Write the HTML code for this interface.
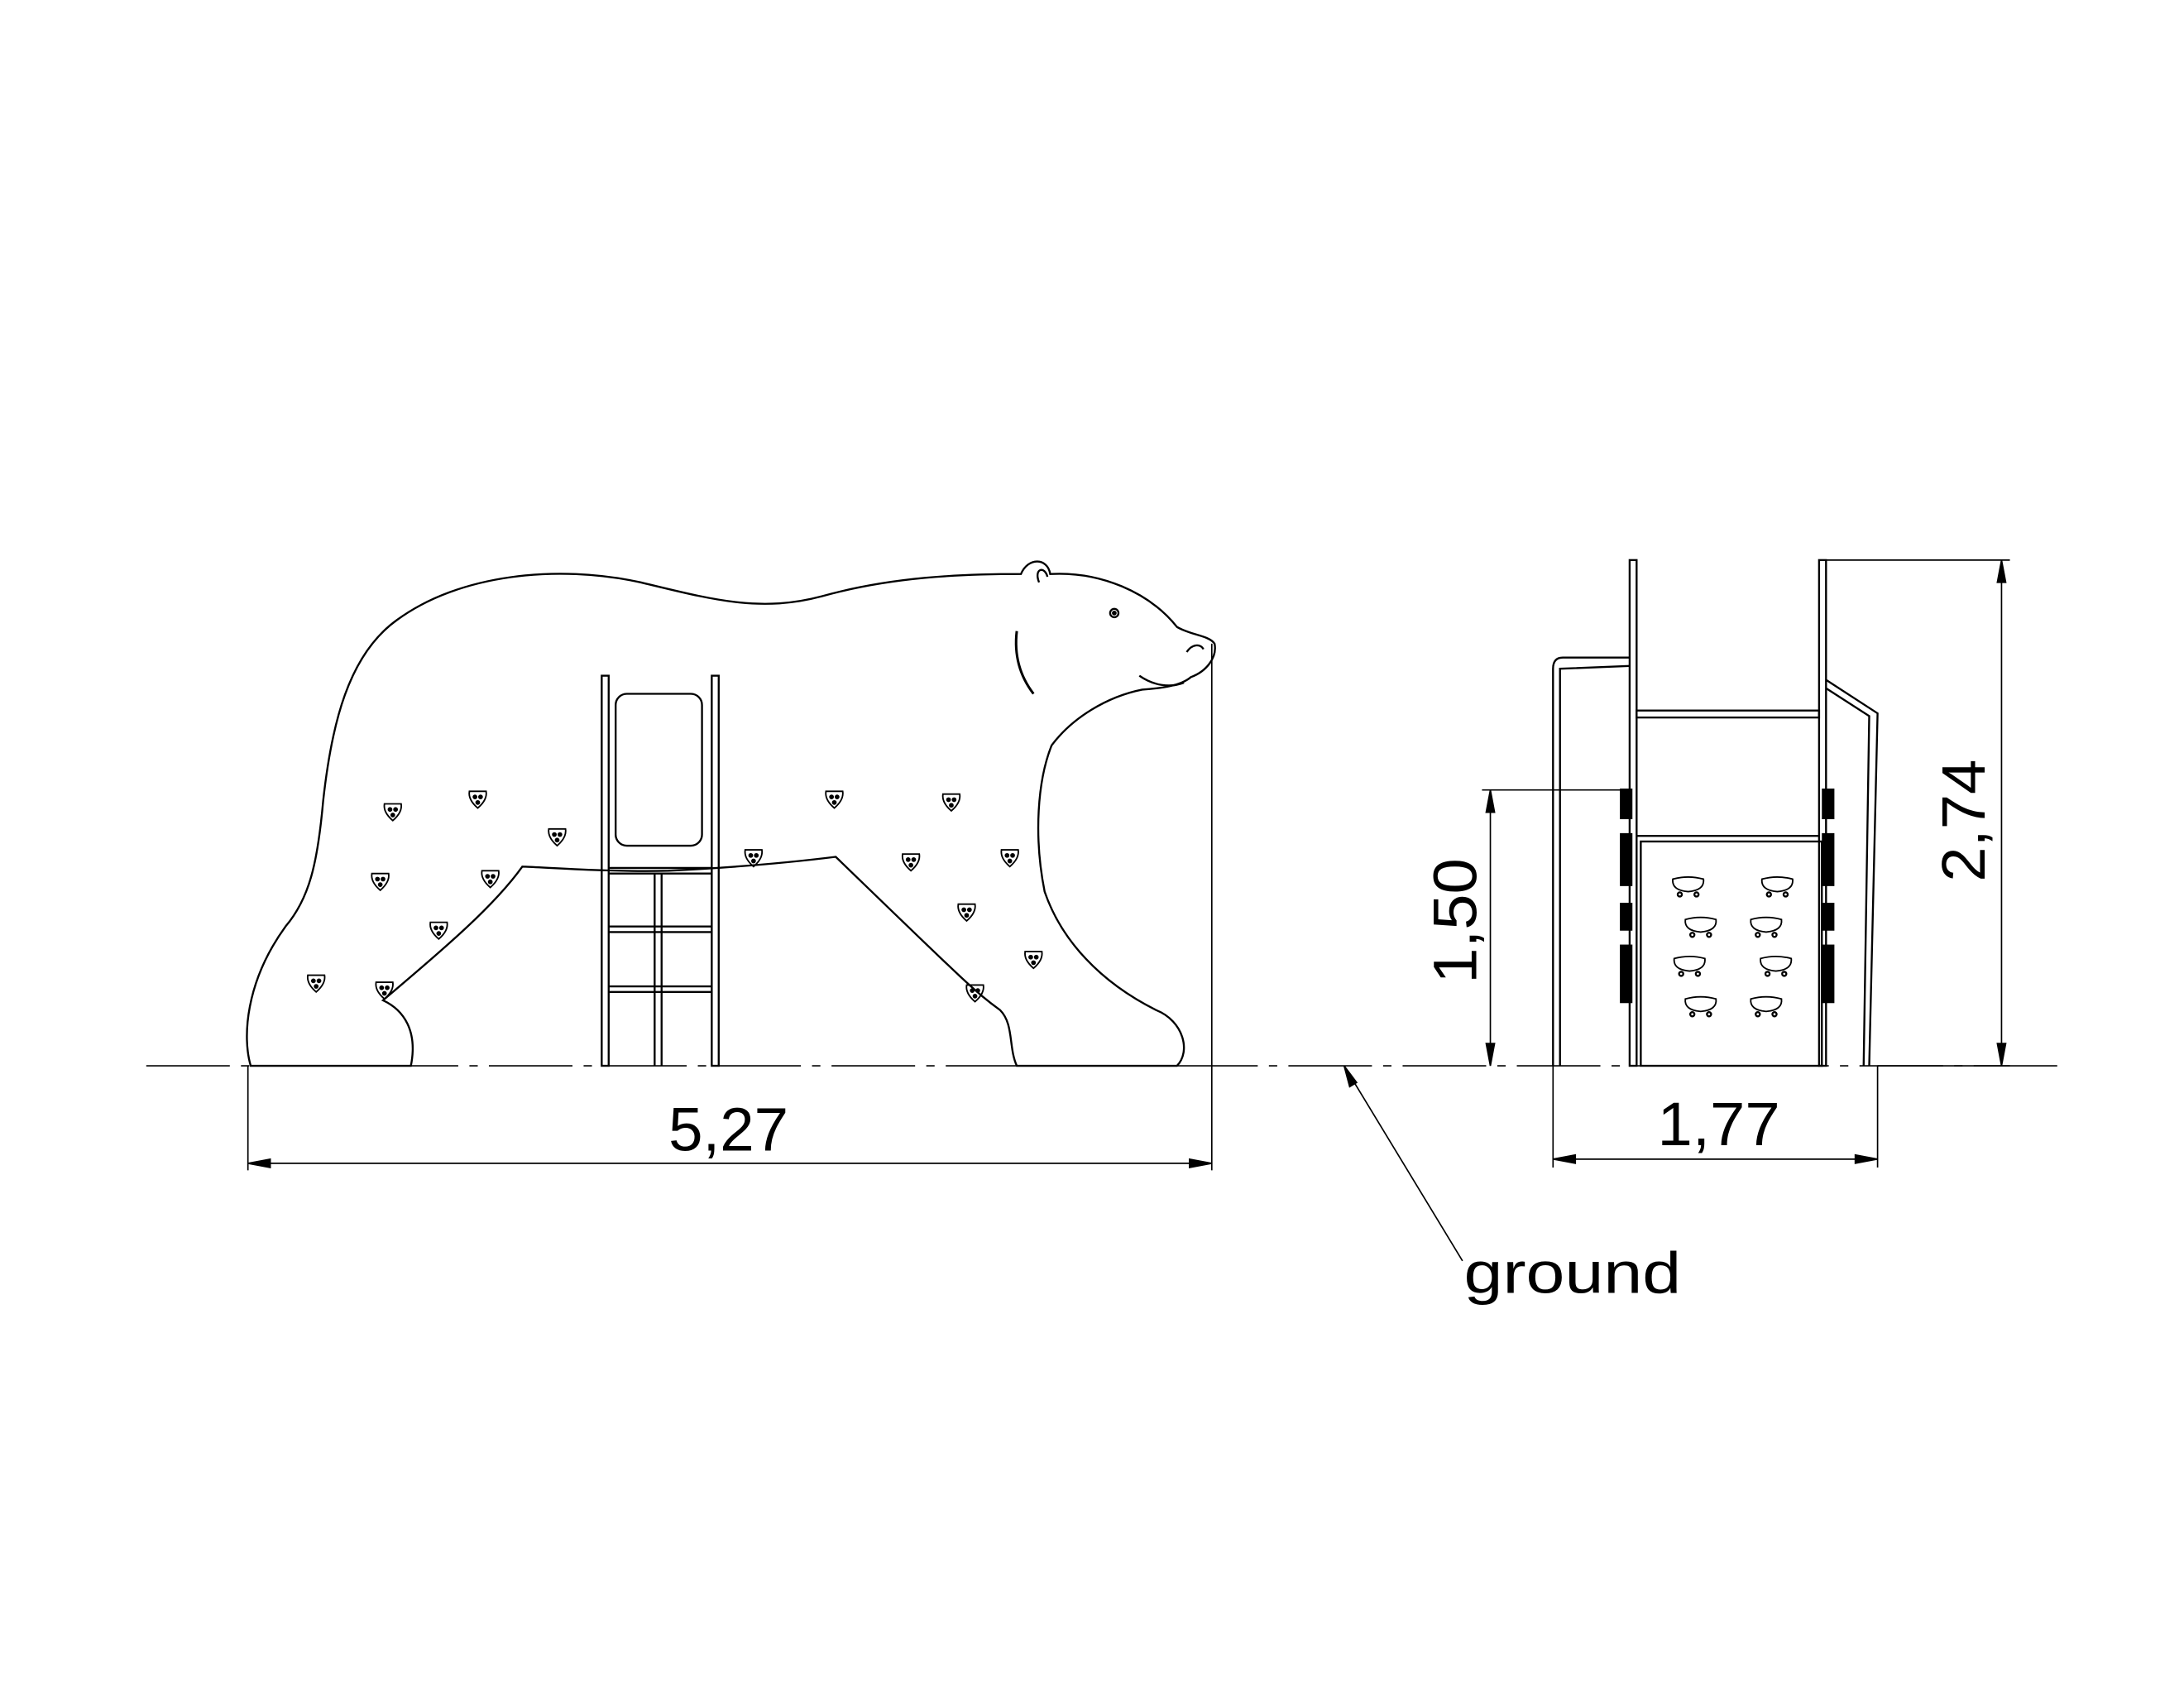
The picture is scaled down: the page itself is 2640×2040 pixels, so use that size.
<!DOCTYPE html>
<html><head><meta charset="utf-8"><style>html,body{margin:0;padding:0;background:#fff}svg{display:block}</style></head>
<body>
<svg width="2640" height="2040" viewBox="0 0 1568 1211.6" xmlns="http://www.w3.org/2000/svg" fill="none" stroke="#000" stroke-width="1.4" font-family="'Liberation Sans', sans-serif">
<defs>
<g id="h"><path d="M-6,-5 L6,-5 Q7,1 0,7 Q-7,1 -6,-5Z" stroke-width="1.1"/><circle cx="-2" cy="-1" r="1" fill="#000"/><circle cx="2" cy="-1" r="1" fill="#000"/><circle cx="0" cy="3" r="1" fill="#000"/></g>
<g id="g"><path d="M-11,-4 Q0,-7 11,-4 Q12,4 0,5 Q-12,4 -11,-4Z" stroke-width="1.1"/><circle cx="-6" cy="7" r="1.5"/><circle cx="6" cy="7" r="1.5"/></g>
</defs>
<!-- bear -->
<path d="M180,765 C174,745 176,705 205,665 C222,645 228,620 232,575 C238,520 250,470 285,445 C330,412 400,405 460,418 C510,430 545,440 590,428 C640,414 690,412 733,412 C738,400 752,400 754,412 C790,410 825,425 845,450 C855,456 868,456 872,462 C874,472 866,482 855,486 C848,492 835,494 820,495 C795,500 770,515 755,535 C745,560 742,600 750,640 C762,675 790,705 830,725 C850,733 855,755 845,765 L730,765 C724,752 728,735 718,725 C700,712 690,702 600,615 C560,620 520,623 480,625 C440,626 400,623 375,622 C355,650 320,680 275,718 C290,725 300,740 295,765 Z"/>
<path d="M746,418 C742,408 750,406 752,414"/>
<circle cx="800" cy="440" r="3"/><circle cx="800" cy="440" r="1" fill="#000"/>
<path d="M730,453 C728,470 732,485 742,498" stroke-width="1.8"/>
<path d="M818,485 C828,492 840,494 850,490"/>
<path d="M852,468 C856,462 862,462 864,466"/>
<!-- holds -->
<use href="#h" x="282" y="582"/><use href="#h" x="343" y="573"/><use href="#h" x="400" y="600"/>
<use href="#h" x="273" y="632"/><use href="#h" x="352" y="630"/><use href="#h" x="315" y="667"/>
<use href="#h" x="227" y="705"/><use href="#h" x="276" y="710"/><use href="#h" x="541" y="615"/>
<use href="#h" x="599" y="573"/><use href="#h" x="683" y="575"/><use href="#h" x="654" y="618"/>
<use href="#h" x="725" y="615"/><use href="#h" x="694" y="654"/><use href="#h" x="742" y="688"/><use href="#h" x="700" y="712"/>
<!-- ladder -->
<rect x="432" y="485" width="5" height="280"/><rect x="511" y="485" width="5" height="280"/>
<rect x="442" y="498" width="62" height="109" rx="8"/>
<line x1="437" y1="623" x2="511" y2="623"/><line x1="437" y1="627" x2="511" y2="627"/>
<line x1="437" y1="665" x2="511" y2="665"/><line x1="437" y1="669" x2="511" y2="669"/>
<line x1="437" y1="708" x2="511" y2="708"/><line x1="437" y1="712" x2="511" y2="712"/>
<line x1="470" y1="627" x2="470" y2="765"/><line x1="475" y1="627" x2="475" y2="765"/>
<!-- right view -->
<rect x="1170" y="402" width="5" height="363"/><rect x="1306" y="402" width="5" height="363"/>
<path d="M1170,472 L1122,472 Q1115,472 1115,480 L1115,765 M1120,765 L1120,480 L1170,478"/>
<path d="M1311,488 L1348,512 L1342,765 M1311,494 L1342,514 L1338,765"/>
<rect x="1175" y="510" width="131" height="5"/>
<rect x="1178" y="604" width="130" height="161"/>
<line x1="1175" y1="600" x2="1306" y2="600"/>
<use href="#g" x="1212" y="635"/><use href="#g" x="1276" y="635"/>
<use href="#g" x="1221" y="664"/><use href="#g" x="1268" y="664"/>
<use href="#g" x="1213" y="692"/><use href="#g" x="1275" y="692"/>
<use href="#g" x="1221" y="721"/><use href="#g" x="1268" y="721"/>
<g fill="#000" stroke="none">
<rect x="1163" y="566" width="9" height="22"/><rect x="1163" y="598" width="9" height="38"/><rect x="1163" y="648" width="9" height="20"/><rect x="1163" y="678" width="9" height="42"/>
<rect x="1308" y="566" width="9" height="22"/><rect x="1308" y="598" width="9" height="38"/><rect x="1308" y="648" width="9" height="20"/><rect x="1308" y="678" width="9" height="42"/>
</g>
<!-- ground -->
<line x1="105" y1="765" x2="1480" y2="765" stroke-width="1" stroke-dasharray="60,8,6,8"/>
<!-- dims -->
<g stroke-width="1">
<line x1="178" y1="765" x2="178" y2="840"/><line x1="870" y1="462" x2="870" y2="840"/>
<line x1="178" y1="835" x2="870" y2="835"/>
<path d="M178,835 l16,-3 v6z M870,835 l-16,-3 v6z" fill="#000"/>
<line x1="1115" y1="765" x2="1115" y2="838"/><line x1="1348" y1="765" x2="1348" y2="838"/>
<line x1="1115" y1="832" x2="1348" y2="832"/>
<path d="M1115,832 l16,-3 v6z M1348,832 l-16,-3 v6z" fill="#000"/>
<line x1="1165" y1="567" x2="1064" y2="567"/>
<line x1="1070" y1="567" x2="1070" y2="765"/>
<path d="M1070,567 l-3,16 h6z M1070,765 l-3,-16 h6z" fill="#000"/>
<line x1="1311" y1="402" x2="1443" y2="402"/><line x1="1348" y1="765" x2="1443" y2="765"/>
<line x1="1437" y1="402" x2="1437" y2="765"/>
<path d="M1437,402 l-3,16 h6z M1437,765 l-3,-16 h6z" fill="#000"/>
<line x1="965" y1="765" x2="1050" y2="905"/>
<path d="M965,765 l4,15 l5,-3z" fill="#000"/>
</g>
<g fill="#000" stroke="none" font-size="44">
<text x="480" y="826" textLength="86" lengthAdjust="spacingAndGlyphs">5,27</text>
<text x="1190" y="822" textLength="88" lengthAdjust="spacingAndGlyphs">1,77</text>
<text transform="translate(1060,706) rotate(-90)" textLength="90" lengthAdjust="spacingAndGlyphs">1,50</text>
<text transform="translate(1425,633) rotate(-90)" textLength="88" lengthAdjust="spacingAndGlyphs">2,74</text>
<text x="1051" y="928" font-size="42" textLength="156" lengthAdjust="spacingAndGlyphs">ground</text>
</g>
</svg>
</body></html>
